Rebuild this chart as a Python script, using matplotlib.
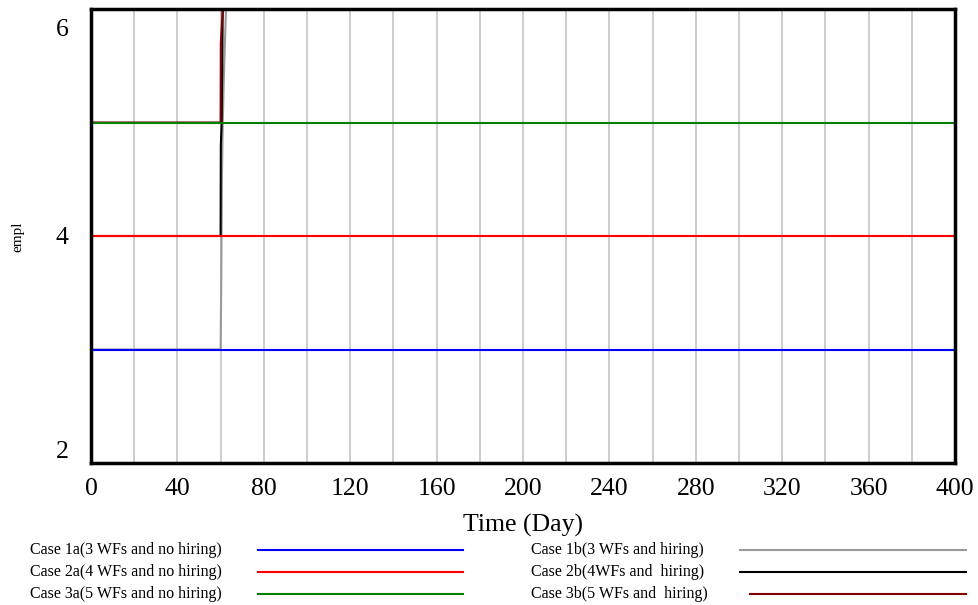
import matplotlib.pyplot as plt
from matplotlib.lines import Line2D
from matplotlib.transforms import ScaledTranslation

plt.rcParams['font.family'] = ['Liberation Serif', 'DejaVu Serif']

# flat cases (no hiring)
t_flat = [0, 400]
case1a = [3, 3]
case2a = [4, 4]
case3a = [5, 5]

# hiring cases: jump shortly after day 60
t_1b = [0, 60, 60.3, 60.6, 61.0, 61.5, 62.5, 400]
case1b = [3, 3, 3.6, 4.5, 5.0, 5.4, 6, 6]
t_2b = [0, 60, 60.1, 60.5, 61.0, 400]
case2b = [4, 4, 4.8, 5.0, 6, 6]
t_3b = [0, 60, 60.1, 61.0, 400]
case3b = [5, 5, 5.7, 6, 6]

labels = ["Case 1a(3 WFs and no hiring)", "Case 2a(4 WFs and no hiring)",
          "Case 3a(5 WFs and no hiring)", "Case 1b(3 WFs and hiring)",
          "Case 2b(4WFs and  hiring)", "Case 3b(5 WFs and  hiring)"]
colors = ["#0000ff", "#ff0000", "#008000", "#999999", "#000000", "#800000"]

W, H = 979, 605
fig = plt.figure(figsize=(W / 100, H / 100), dpi=100)
ax = fig.add_axes([91 / W, 1 - 463 / H, (955 - 91) / W, (463 - 9) / H])

for x in range(20, 400, 20):
    ax.axvline(x, color="#c8c8c8", lw=1.3, zorder=0)

# hiring runs first, flat runs drawn over them
ax.plot(t_1b, case1b, color=colors[3], lw=1.5)
ax.plot(t_2b, case2b, color=colors[4], lw=1.5)
ax.plot(t_3b, case3b, color=colors[5], lw=1.5)
ax.plot(t_flat, case1a, color=colors[0], lw=1.5)
ax.plot(t_flat, case2a, color=colors[1], lw=1.5)
ax.plot(t_flat, case3a, color=colors[2], lw=1.5)

ax.set_xlim(0, 400)
ax.set_ylim(2, 6)
ax.set_xticks(range(0, 401, 40))
ax.set_yticks([2, 4, 6])
ax.tick_params(length=0, labelsize=18.5)
ax.tick_params(axis='x', pad=11)
ax.tick_params(axis='y', pad=16)
ylab = ax.get_yticklabels()
ylab[0].set_va('bottom')
ylab[2].set_va('top')
ylab[2].set_transform(ylab[2].get_transform() +
                      ScaledTranslation(0, -10 / 100, fig.dpi_scale_trans))
for s in ax.spines.values():
    s.set_linewidth(2.5)
ax.set_xlabel("Time (Day)", fontsize=18.5, labelpad=10)
fig.text(18 / W, 1 - 237 / H, "empl", rotation=90, fontsize=11,
         ha='center', va='center')

# legend drawn by hand, two columns of text + line sample
rows = [550, 572, 594]
for i, lab in enumerate(labels):
    col = i // 3
    y = 1 - rows[i % 3] / H
    if col == 0:
        fig.text(30 / W, y, lab, fontsize=11.5, va='center', ha='left')
        x0, x1 = 258, 463
    else:
        fig.text(531 / W, y, lab, fontsize=11.5, va='center', ha='left')
        x0, x1 = (750 if i == 5 else 740), 966
    fig.add_artist(Line2D([x0 / W, x1 / W], [y, y], color=colors[i], lw=1.5,
                          transform=fig.transFigure))

fig.savefig("out.png", dpi=100)
